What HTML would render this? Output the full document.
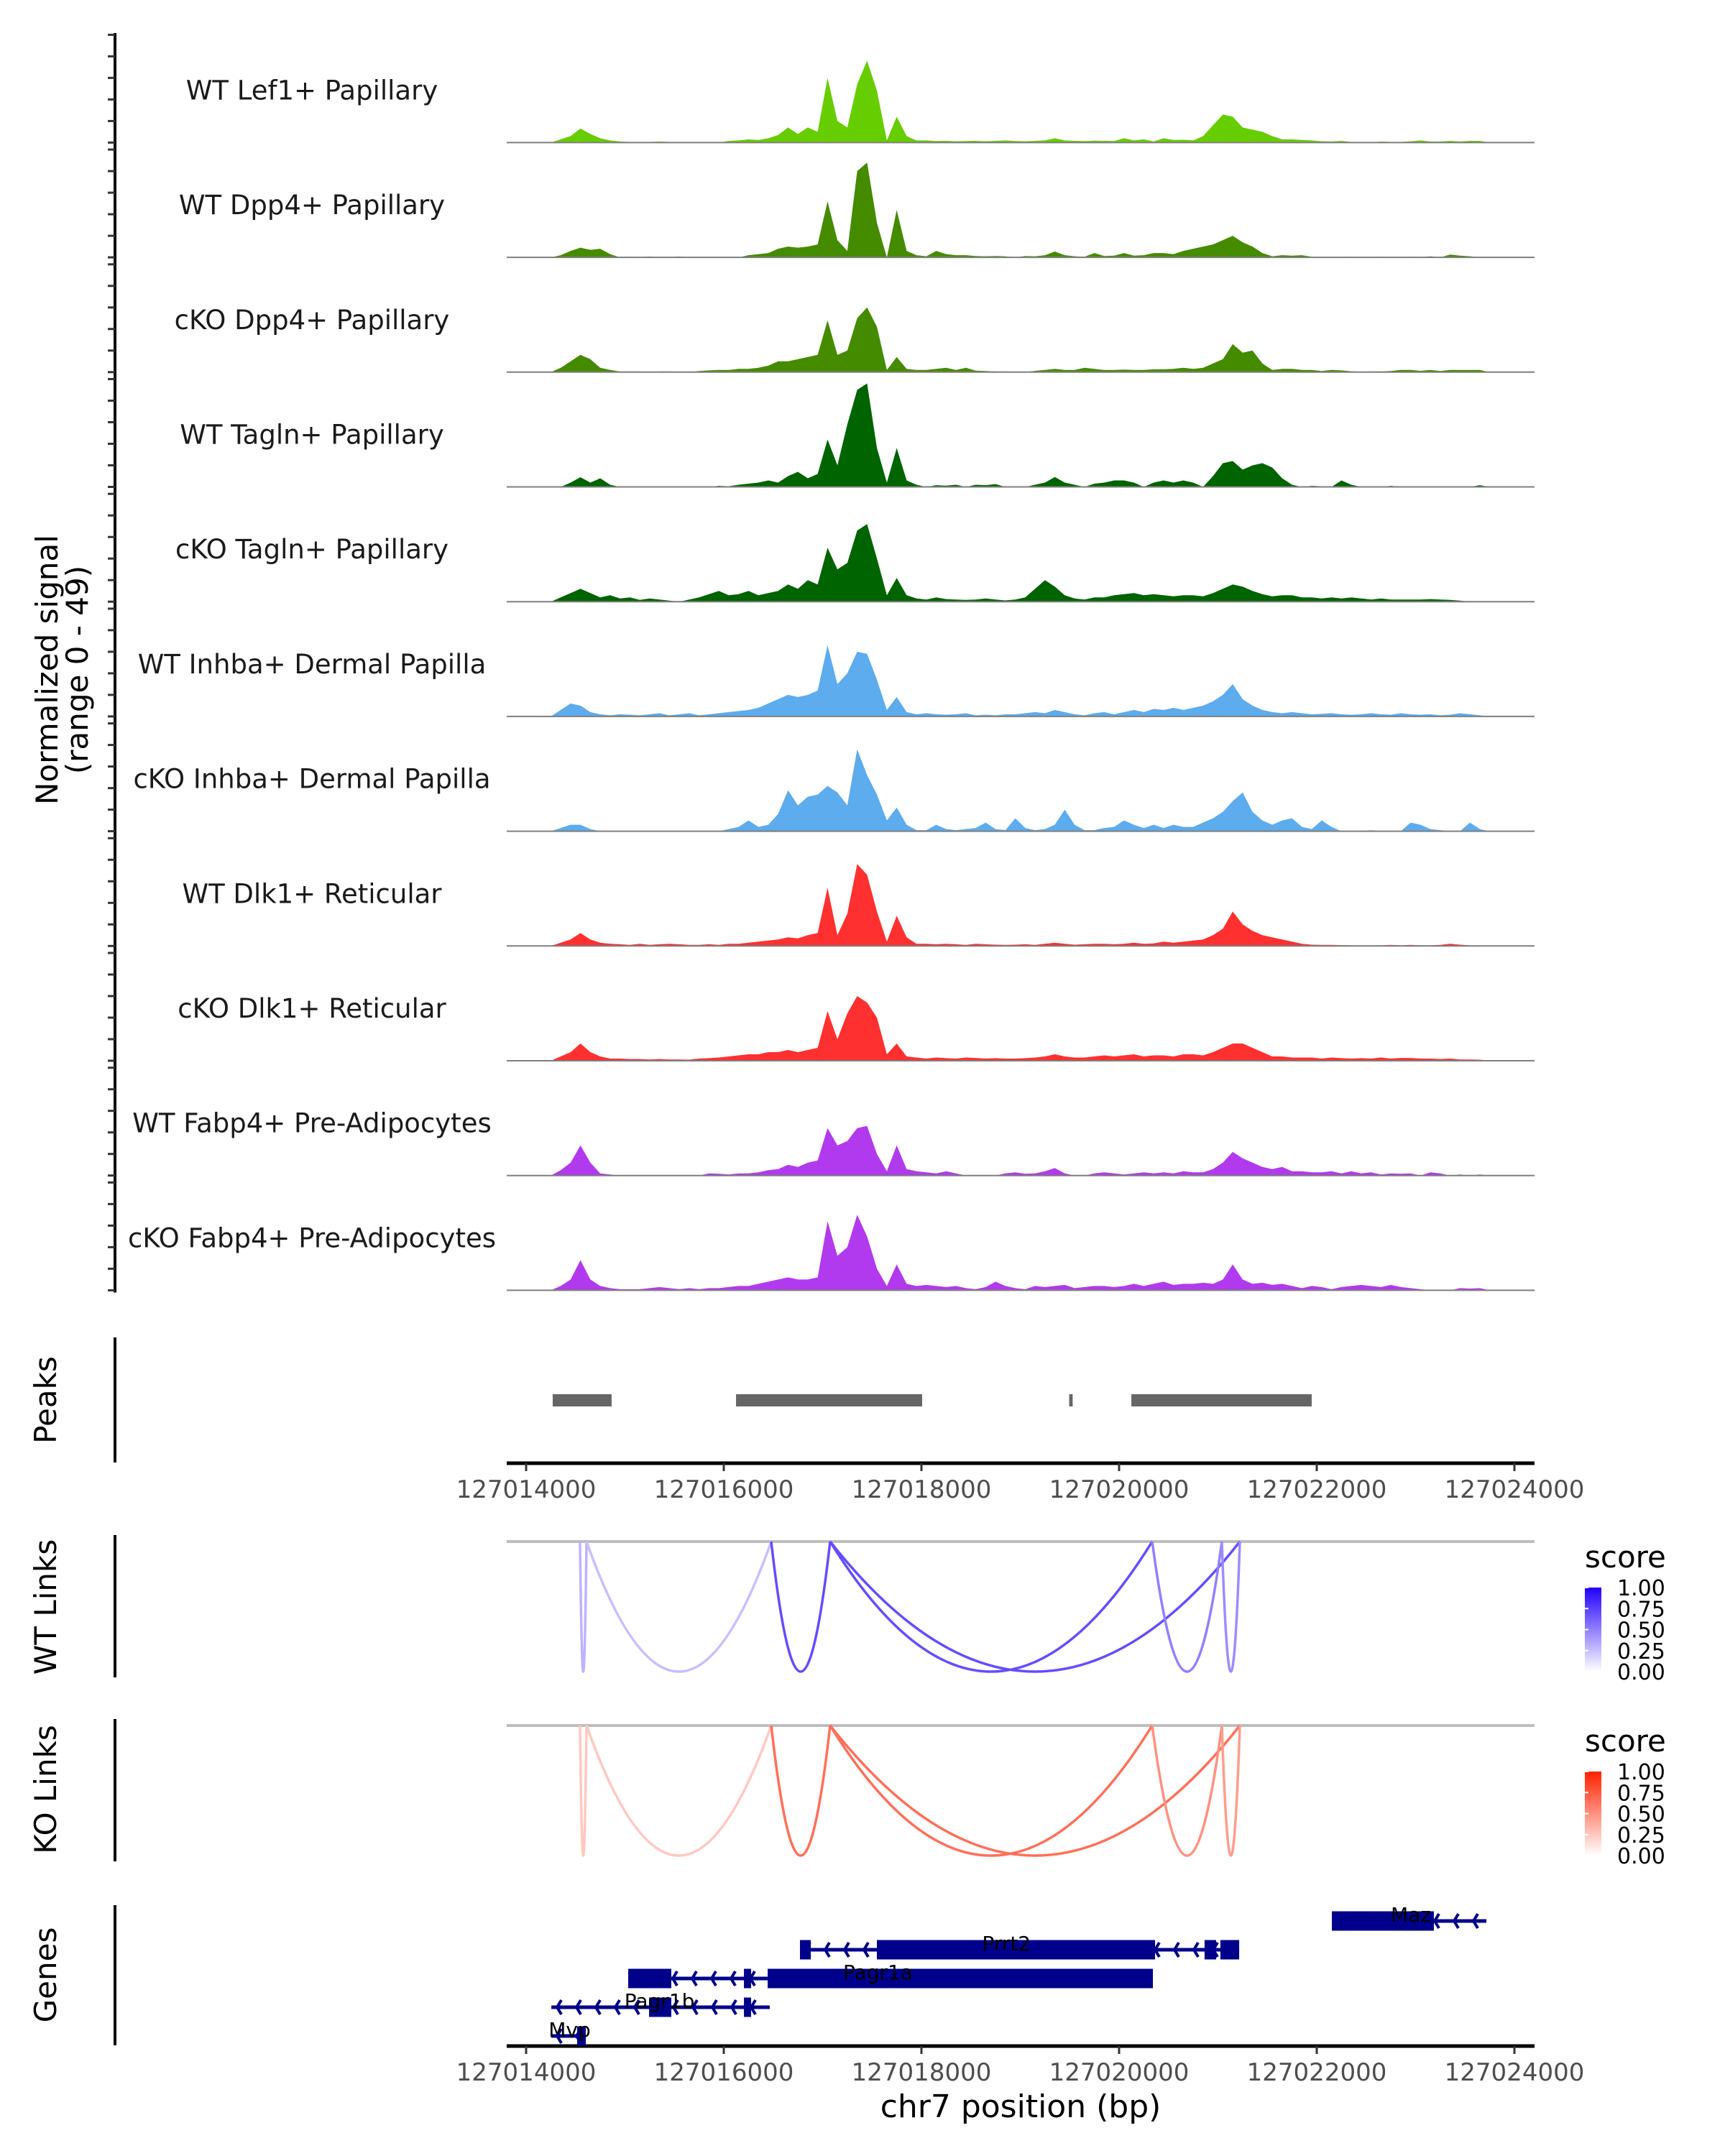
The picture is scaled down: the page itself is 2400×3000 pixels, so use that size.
<!DOCTYPE html>
<html><head><meta charset="utf-8"><title>Coverage plot chr7</title>
<style>html,body{margin:0;padding:0;background:#fff}svg{display:block}text{font-family:"DejaVu Sans","Liberation Sans",sans-serif}</style>
</head><body>
<svg id="chart" xmlns="http://www.w3.org/2000/svg" width="2400" height="3000" viewBox="0 0 2400 3000">
<rect width="2400" height="3000" fill="#fff"/>
<g id="tracks"></g>
<g id="axes"></g>
<g id="peaks"></g>
<g id="links"></g>
<g id="genes"></g>
<defs>
<linearGradient id="gradWT" x1="0" y1="1" x2="0" y2="0"><stop offset="0" stop-color="#ffffff"/><stop offset="1" stop-color="#2200ff"/></linearGradient>
<linearGradient id="gradKO" x1="0" y1="1" x2="0" y2="0"><stop offset="0" stop-color="#ffffff"/><stop offset="1" stop-color="#ff2200"/></linearGradient>
</defs>
<text transform="translate(80,932) rotate(-90)" text-anchor="middle" font-size="42" fill="#000">Normalized signal</text>
<text transform="translate(122,932) rotate(-90)" text-anchor="middle" font-size="42" fill="#000">(range 0 - 49)</text>
<text transform="translate(78,1948) rotate(-90)" text-anchor="middle" font-size="42" fill="#000">Peaks</text>
<text transform="translate(78,2236) rotate(-90)" text-anchor="middle" font-size="42" fill="#000">WT Links</text>
<text transform="translate(78,2490) rotate(-90)" text-anchor="middle" font-size="42" fill="#000">KO Links</text>
<text transform="translate(78,2748) rotate(-90)" text-anchor="middle" font-size="42" fill="#000">Genes</text>
<text x="1420" y="2946" text-anchor="middle" font-size="44" fill="#000">chr7 position (bp)</text>
</svg>
<script>
// ---------- data ----------
const binStart = 127014200;
const binSize = 100;
const trackNames = ["WT Lef1+ Papillary","WT Dpp4+ Papillary","cKO Dpp4+ Papillary","WT Tagln+ Papillary","cKO Tagln+ Papillary","WT Inhba+ Dermal Papilla","cKO Inhba+ Dermal Papilla","WT Dlk1+ Reticular","cKO Dlk1+ Reticular","WT Fabp4+ Pre-Adipocytes","cKO Fabp4+ Pre-Adipocytes"];
const trackColors = ["#66cd00","#458b00","#458b00","#006400","#006400","#5cacee","#5cacee","#ff3030","#ff3030","#b23aee","#b23aee"];
const sigLef1WT = [0,1.5,3,6.5,4,2,1,0.5,0.3,0.3,0.3,0.5,0.3,0.2,0,0,0,0,0.8,1,1.5,1.2,2,3.5,7,4,7,5,30,10,7,27,38,24,1,12,3,1,1,0.7,0.8,0.6,0.7,0.8,0.6,0.8,1,0.7,0.6,0.8,1,2,1,0.8,0.7,0.9,0.8,0.7,2,1,1.5,0.5,2,1.2,1.3,1,3,8,13,12,7,6,5,3,1.5,1.5,1.2,1,0.6,0.5,0.8,0.3,0.3,0,0.5,0.3,0.3,0.6,1,0.5,0.5,0.8,0.5,0.8,0.8,0];
const sigDpp4WT = [0,1,3,4.5,3.5,4,1.5,0,0.3,0,0.4,0,0,0.4,0,0,0,0,0,0,1,1.5,2,4,5,4.5,5,6,26,8,3,40,44,16,0,22,3,1,0.5,3,1.5,1,1,0.6,0.5,0.6,0.5,0,0.6,0.5,1,2.7,1,0.5,0.3,2,0.6,0.8,2,0.8,1,2,2,1.5,3,4,5,6,8,10,7,5,2,0.5,1,0.8,1,0.3,0,0,0,0.3,0,0,0.3,0,0,0.3,0,0.5,0,1.3,0.8,0.5,0,0];
const sigDpp4KO = [0,2,5,8,6,2,1,0.3,0.3,0.3,0,0.3,0.3,0,0,0.5,0.8,1,1,1.5,1.5,2,3,5,5,6,7,8,24,8,10,25,30,21,1,7,1.5,1,1,1.5,2,1,2,0.7,0.5,0.3,0.3,0,0,0.6,1,1.5,1,1,2,1.5,1,1,1.2,1,1,1.3,1.3,1.5,2,1.5,2,4,6,13,9,10,4,1,1.5,1.5,1,1,0.5,1,0.8,0.4,0.2,0.3,0.3,0.5,1,1,0.6,1,0.5,1,1,1,1,0];
const sigTaglnWT = [0,0,2,4.5,2,4,1,0,0,0,0,0,0,0,0,0,0,0.5,0.3,1,1.5,2,3,2,5,7,4,6,22,10,29,45,48,18,2,18,3,1,0,0.8,0.6,1,0,1,0.8,1.3,0,0,0,1,2,4.6,2,1,0,1.5,2,3,3,2,0,2,3,2,3,2,0,5,11,12,8,10,11,9,4,1,0,0.5,0.3,0,3,1,0,0,0,0.5,0,0,0,0,0,0,0,0,0.8,0];
const sigTaglnKO = [0,2,4,6,4,2,3,1.5,2,0.8,1.5,1,0.5,0,1,2,3.5,5,3,3.5,5,3,4,5,8,6,10,8,25,15,18,33,36,20,3,11,3,1.5,1,2,1.2,1,0.8,1,1.5,1,0.6,1,2,6,10,7,3,1.5,1,2,2,3,3.5,4,3,3.5,3,2.5,3,3,2.5,4,6,8,7,5,3.5,2.5,3,3,2,2,1.5,2,1.5,2,1.5,1,1.5,1,1,1,1,1.2,1,0.8,0.5,0,0,0];
const sigInhbaWT = [0,3,6,5,2,1,0.5,1,0.8,0.5,1,1.5,0.5,1,1.5,0.5,1,1.5,2,2.5,3,4,6,8,10,9,10,12,33,15,20,30,29,17,3,9,2,1,1.5,1,0.8,1,1.5,0.5,0.8,0.5,1,1,1.5,2,1.5,3,2,1,0.5,1.5,2,1,2,3,2,3.5,3,4,3,4,5,7,10,15,8,5,3,2,1.5,2,1.5,1,1.2,1.5,1,0.8,1,1.5,1,0.8,1.5,1,0.8,1,0.5,0.8,1.5,1,0.5,0];
const sigInhbaKO = [0,1.5,3,3,1,0,0,0,0,0,0,0,0,0,0,0,0,0,1,2,5,2,3,8,19,12,16,17,21,18,12,38,26,17,5,11,3,0.5,0.5,3,1,0.5,1,1.5,4,1,0.5,6,1.5,0.5,1,3,10,3,0.5,0.5,1.5,2,5,3,1.5,3,1.5,3,2,2,4,6,9,14,18,9,5,3,5,6,2,1,5,2,0,0,0,0.5,0,0,0,4,3,1,0.5,0,0,4,1,0];
const sigDlk1WT = [0,1.5,3,6,3,1.5,1,0.8,0.5,1,0.5,0.8,1,0.8,0.5,0.5,0.8,0.5,1,1,1.5,2,2.5,3,4,3.5,5,6,27,5,15,38,33,16,2,14,4,1,1,0.8,1,0.8,0.5,1,0.8,0.6,0.5,0.6,0.8,0.5,1,1.5,1,0.6,0.8,1,1,0.8,1,1.5,1,1.2,2,1.5,2,2.5,3,5,8,16,10,7,5,4,3,2,1,0.6,0.5,0.5,0.4,0.3,0.3,0.3,0.3,0.5,0.3,0.5,0.3,0.3,0.5,1,0.6,0.3,0,0];
const sigDlk1KO = [0,2,4,8,4,2,1,1,0.8,0.8,0.6,0.8,0.6,0.6,0.5,1,1.2,1.5,2,2.5,3,3,4,4,5,4,5,6,23,10,22,30,27,20,3,8,2,1.5,1,1.5,1.2,1,1.5,1.3,1,1.2,1,1,1.2,1.5,2,3,2,1.5,1.5,2,2.5,2,2.5,3,2,2.5,2.5,2,3,3,2.5,4,6,8,8,6,4,2,2,1.5,1.5,1.5,1,1.5,1.2,1,1.2,1,1.5,1,1.3,1.3,1,1,0.8,1,0.6,0.6,0.5,0];
const sigFabp4WT = [0,2.5,6,14,6,1,0.5,0,0,0,0,0,0,0,0,0,1,0.8,0.5,1,1,1.5,2.5,3,5,4,6,7,22,14,16,22,23,10,2,14,3,2,1.5,1,2,1,0,0,0,0,1,1.5,0.8,1,2,3.5,1,0,0,1,1.5,1,0.5,1,1.5,1,1.5,1,2,1.5,1.5,3,6,11,8,6,4,3,4,2,2,1.5,1.5,2,1,2,1,1.5,0.5,1,0.8,1,0,1.5,1,0,0.5,0,0.5,0];
const sigFabp4KO = [0,2,5,14,5,2,1,0.5,0.5,0.5,1,1.5,1,0.5,1,0.5,1,1,1.5,2,2,3,4,5,6,5,5,6,32,16,20,35,25,10,2,12,3,2,2.5,2,1.5,2,1,0.5,1.5,4,2,1,0.5,2,1.5,2,2.5,1,1.5,2,2,1.5,2,3,2,3,4,2.5,3,3,3.5,3,5,12,5,3,3.5,2.5,3,2,1,2,1.5,0.5,1.5,2,2.5,2,1.5,2.5,1.5,1,0.5,0,0,0,1,0.8,1,0];
const signals = [sigLef1WT,sigDpp4WT,sigDpp4KO,sigTaglnWT,sigTaglnKO,sigInhbaWT,sigInhbaKO,sigDlk1WT,sigDlk1KO,sigFabp4WT,sigFabp4KO];

const xTicks = [127014000,127016000,127018000,127020000,127022000,127024000];
const xTickLabels = ["127014000","127016000","127018000","127020000","127022000","127024000"];
const peakStarts = [127014269,127016124,127019495,127020124];
const peakEnds   = [127014865,127018007,127019530,127021949];

const linkStarts = [127014545,127014611,127016480,127017076,127017076,127020335,127021040];
const linkEnds   = [127014611,127016480,127017076,127020335,127021222,127021040,127021222];
const linkScoresWT = [0.3,0.25,0.7,0.7,0.7,0.5,0.45];
const linkScoresKO = [0.25,0.25,0.65,0.65,0.65,0.5,0.45];
const legendTicks = [1.00,0.75,0.50,0.25,0.00];
const legendLabels = ["1.00","0.75","0.50","0.25","0.00"];

const geneNames  = ["Maz","Prrt2","Pagr1a","Pagr1b","Mvp"];
const geneStarts = [127022153,127016771,127015033,127014255,127014255];
const geneEnds   = [127023716,127021215,127020342,127016465,127014604];
const geneExons  = [
  [[127022153,127023185]],
  [[127016771,127016880],[127017549,127020364],[127020865,127020982],[127021025,127021215]],
  [[127015033,127015469],[127016204,127016276],[127016444,127020342]],
  [[127015244,127015469],[127016204,127016276]],
  [[127014516,127014604]]
];
const geneLabelPos = [127022953,127018860,127017560,127015350,127014440];

// ---------- scales ----------
const X0 = 732, XPX = 0.1375;
function xScale(p){ return X0 + (p - 127014000) * XPX; }
const PLOT_L = 705, PLOT_R = 2135;
const TRACK_B0 = 198.4, TRACK_STEP = 159.7, PX_PER_UNIT = 3;
function trackBase(i){ return TRACK_B0 + i * TRACK_STEP; }
function yScale(i, v){ return trackBase(i) - v * PX_PER_UNIT; }

const NS = "http://www.w3.org/2000/svg";
function mk(tag, parent, attrs){ const e = document.createElementNS(NS, tag); for (const k in attrs) e.setAttribute(k, attrs[k]); parent.appendChild(e); return e; }

// ---------- signal tracks ----------
const gT = document.getElementById('tracks');
signals.forEach((vals, i) => {
  const b = trackBase(i);
  let d = "M" + xScale(binStart) + "," + b;
  vals.forEach((v, j) => { d += " L" + xScale(binStart + j * binSize + binSize / 2).toFixed(1) + "," + yScale(i, v).toFixed(1); });
  d += " L" + xScale(binStart + vals.length * binSize) + "," + b + " Z";
  const p = mk('path', gT, {d: d, fill: trackColors[i]});
  
  
  const ln = mk('line', gT, {x1: PLOT_L, x2: PLOT_R, y1: b, y2: b, stroke: '#7f7f7f', 'stroke-width': 2});
  
  
  const t = mk('text', gT, {x: 434, y: b - 60, 'text-anchor': 'middle', 'font-size': 37, fill: '#1a1a1a'});
  t.textContent = trackNames[i];
  
  
});

// ---------- left axes ----------
const gA = document.getElementById('axes');
const yAx = mk('line', gA, {x1: 160, x2: 160, y1: 46, y2: trackBase(10) + 3, stroke: '#000', 'stroke-width': 4});


for (let i = 0; i < signals.length; i++) {
  for (let k = 0; k <= 5; k++) {
    const y = trackBase(i) - k * 10 * PX_PER_UNIT;
    const tk = mk('line', gA, {x1: 150, x2: 160, y1: y, y2: y, stroke: '#333', 'stroke-width': 3});
    
    
  }
}
[[1861,2035],[2136,2334],[2392,2590],[2651,2846]].forEach(r => {
  const l = mk('line', gA, {x1: 160, x2: 160, y1: r[0], y2: r[1], stroke: '#000', 'stroke-width': 4});
  
  
});
function xAxis(y, labY, name){
  const l = mk('line', gA, {x1: PLOT_L, x2: PLOT_R, y1: y, y2: y, stroke: '#000', 'stroke-width': 5});
  
  
  xTicks.forEach((p, k) => {
    const t = mk('line', gA, {x1: xScale(p), x2: xScale(p), y1: y, y2: y + 11, stroke: '#333', 'stroke-width': 3});
    
    
    const tx = mk('text', gA, {x: xScale(p), y: labY, 'text-anchor': 'middle', 'font-size': 34, fill: '#4d4d4d'});
    tx.textContent = xTickLabels[k];
    
    
  });
}
xAxis(2036, 2084, 'peaks-x-axis');
xAxis(2847, 2895, 'x-axis');

// ---------- peaks ----------
const gP = document.getElementById('peaks');
peakStarts.forEach((s, k) => {
  const r = mk('rect', gP, {x: xScale(s), y: 1940, width: Math.max(4, xScale(peakEnds[k]) - xScale(s)), height: 17, fill: '#666666'});
  
  
});

// ---------- links ----------
const gL = document.getElementById('links');
function mix(c, s){ return 'rgb(' + c.map(v => Math.round(255 + (v - 255) * s)).join(',') + ')'; }
function linkPanel(top, scores, col, grad, name){
  const gl = mk('line', gL, {x1: PLOT_L, x2: PLOT_R, y1: top, y2: top, stroke: '#bebebe', 'stroke-width': 4});
  
  
  const depth = 181;
  linkStarts.forEach((s, k) => {
    const x1 = xScale(s), x2 = xScale(linkEnds[k]), xm = (x1 + x2) / 2;
    const p = mk('path', gL, {d: 'M' + x1 + ',' + top + ' Q' + xm + ',' + (top + 2 * depth) + ' ' + x2 + ',' + top, fill: 'none', stroke: mix(col, scores[k]), 'stroke-width': 3.5});
    
    
  });
  const t = mk('text', gL, {x: 2205, y: top + 36, 'font-size': 42, fill: '#000'});
  t.textContent = 'score';
  
  
  const bt = top + 64, bh = 117;
  const bar = mk('rect', gL, {x: 2205, y: bt, width: 23, height: bh, fill: 'url(#' + grad + ')'});
  
  
  legendTicks.forEach((v, k) => {
    const y = bt + bh * (1 - v);
    const tk = mk('line', gL, {x1: 2205, x2: 2210, y1: y, y2: y, stroke: '#fff', 'stroke-width': 2});
    
    
    const tx = mk('text', gL, {x: 2250, y: y + 11, 'font-size': 30, fill: '#000'});
    tx.textContent = legendLabels[k];
    
    
  });
}
linkPanel(2145, linkScoresWT, [34,0,255], 'gradWT', 'wt-links');
linkPanel(2401, linkScoresKO, [255,34,0], 'gradKO', 'ko-links');

// ---------- genes ----------
const gG = document.getElementById('genes');
const GC = '#00008b';
geneNames.forEach((nm, k) => {
  const yc = 2673 + k * 40;
  const x1 = xScale(geneStarts[k]), x2 = xScale(geneEnds[k]);
  const l = mk('line', gG, {x1: x1, x2: x2, y1: yc, y2: yc, stroke: GC, 'stroke-width': 5});
  
  
  for (let x = x1 + 8; x < x2 - 4; x += 27) {
    const c = mk('polyline', gG, {points: (x + 6) + ',' + (yc - 10) + ' ' + x + ',' + yc + ' ' + (x + 6) + ',' + (yc + 10), fill: 'none', stroke: GC, 'stroke-width': 4});
    
    
  }
  geneExons[k].forEach(e => {
    const r = mk('rect', gG, {x: xScale(e[0]), y: yc - 13.5, width: Math.max(4, xScale(e[1]) - xScale(e[0])), height: 27, fill: GC});
    
    
  });
  const t = mk('text', gG, {x: xScale(geneLabelPos[k]), y: yc + 1, 'text-anchor': 'middle', 'font-size': 28, fill: '#000'});
  t.textContent = nm;
  
  
});
</script>
</body></html>
